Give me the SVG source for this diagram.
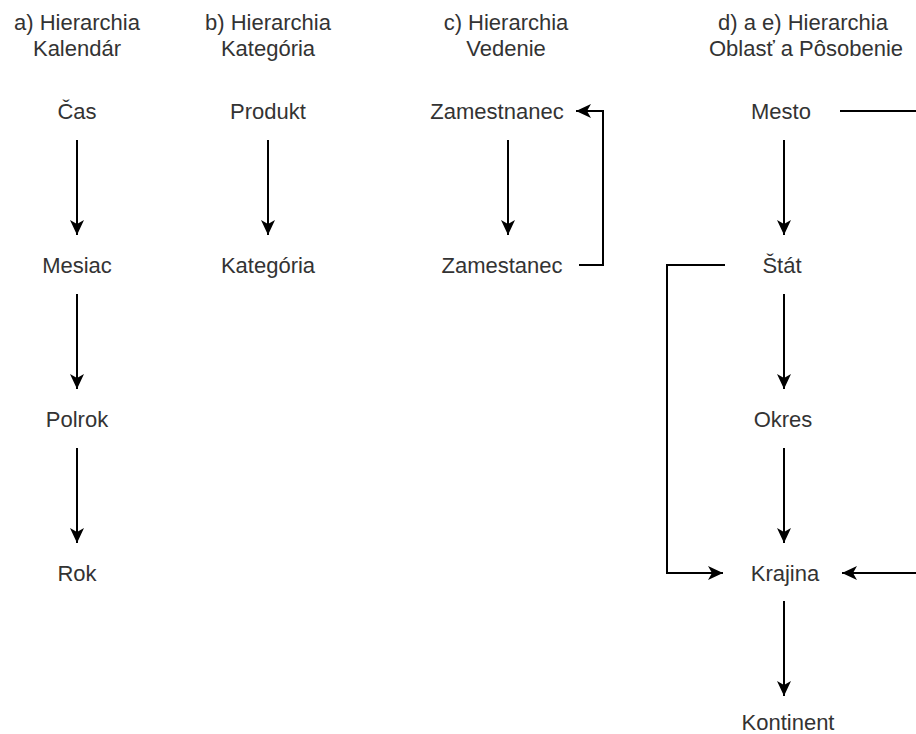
<svg xmlns="http://www.w3.org/2000/svg" width="916" height="734" viewBox="0 0 916 734">
  <style>
    text { font-family: "Liberation Sans", Arial, Helvetica, sans-serif; font-size: 22px; fill: #333333; text-anchor: middle; }
    .edge { fill: none; stroke: #000000; stroke-width: 2; }
  </style>
  <defs>
    <marker id="arrow" markerUnits="userSpaceOnUse" markerWidth="16" markerHeight="16" refX="15" refY="7" orient="auto">
      <path d="M0,0 L15,7 L0,14 L4,7 Z" fill="#000000"/>
    </marker>
  </defs>
  <rect width="916" height="734" fill="#ffffff"/>

  <!-- column headings -->
  <g id="heading-a"><text x="77" y="30">a) Hierarchia</text><text x="77" y="56">Kalendár</text></g>
  <g id="heading-b"><text x="268" y="30">b) Hierarchia</text><text x="268" y="56">Kategória</text></g>
  <g id="heading-c"><text x="506" y="30">c) Hierarchia</text><text x="506" y="56">Vedenie</text></g>
  <g id="heading-d"><text x="803" y="30">d) a e) Hierarchia</text><text x="806" y="56">Oblasť a Pôsobenie</text></g>

  <!-- a) calendar -->
  <g id="cas"><text x="77" y="119">Čas</text></g>
  <g id="mesiac"><text x="77" y="273">Mesiac</text></g>
  <g id="polrok"><text x="77" y="427">Polrok</text></g>
  <g id="rok"><text x="77" y="581">Rok</text></g>

  <!-- b) category -->
  <g id="produkt"><text x="268" y="119">Produkt</text></g>
  <g id="kategoria"><text x="268" y="273">Kategória</text></g>

  <!-- c) management -->
  <g id="zamestnanec"><text x="497" y="119">Zamestnanec</text></g>
  <g id="zamestanec"><text x="502" y="273">Zamestanec</text></g>

  <!-- d/e) area -->
  <g id="mesto"><text x="781" y="119">Mesto</text></g>
  <g id="stat"><text x="782" y="273">Štát</text></g>
  <g id="okres"><text x="783" y="427">Okres</text></g>
  <g id="krajina"><text x="785" y="581">Krajina</text></g>
  <g id="kontinent"><text x="788" y="730">Kontinent</text></g>

  <g id="connectors">
    <!-- a) -->
    <path class="edge" d="M77,140 V235" marker-end="url(#arrow)"/>
    <path class="edge" d="M77,294 V389" marker-end="url(#arrow)"/>
    <path class="edge" d="M77,448 V543" marker-end="url(#arrow)"/>
    <!-- b) -->
    <path class="edge" d="M268,140 V235" marker-end="url(#arrow)"/>
    <!-- c) -->
    <path class="edge" d="M508,140 V235" marker-end="url(#arrow)"/>
    <path class="edge" d="M579,265 H603 V111 H576" marker-end="url(#arrow)"/>
    <!-- d/e) -->
    <path class="edge" d="M784,140 V235" marker-end="url(#arrow)"/>
    <path class="edge" d="M784,294 V389" marker-end="url(#arrow)"/>
    <path class="edge" d="M784,448 V543" marker-end="url(#arrow)"/>
    <path class="edge" d="M784,601 V696" marker-end="url(#arrow)"/>
    <path class="edge" d="M725,265 H667 V573 H723" marker-end="url(#arrow)"/>
    <path class="edge" d="M840,111 H930 V573 H842" marker-end="url(#arrow)"/>
  </g>
</svg>
